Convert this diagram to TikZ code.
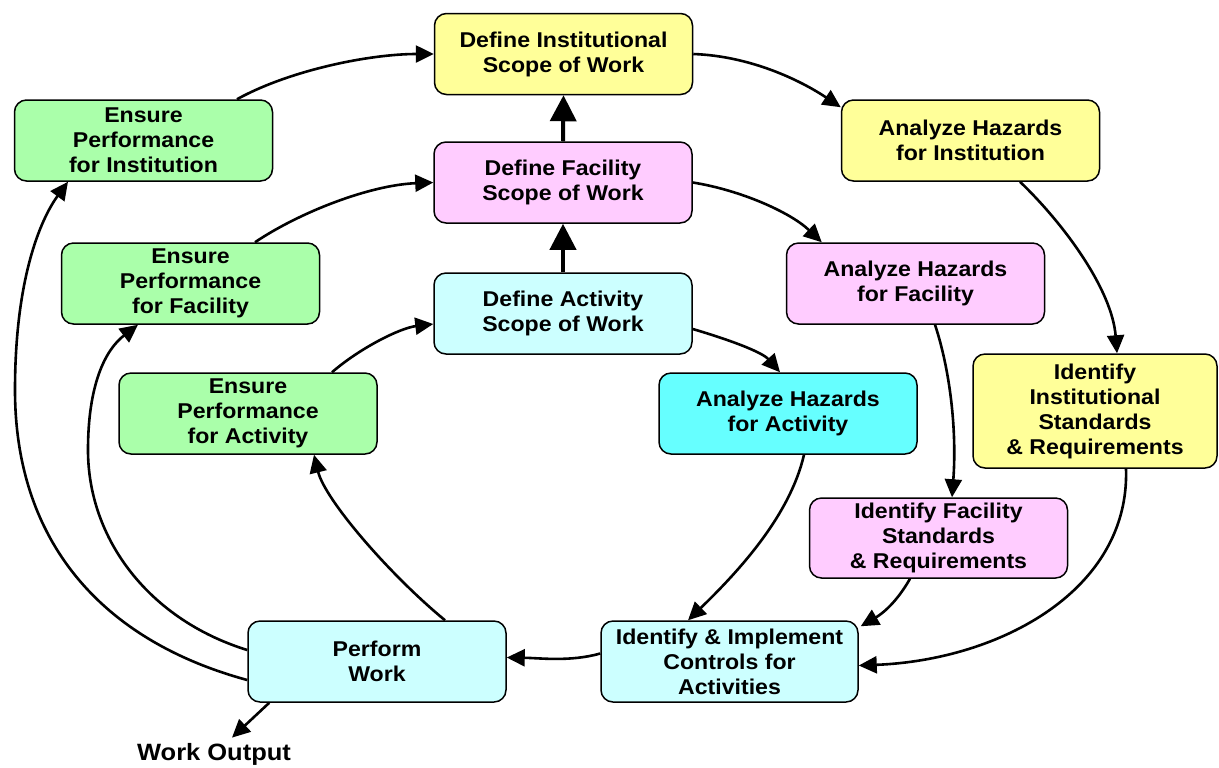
\documentclass[tikz,border=0pt]{standalone}
\usepackage{fontspec}
\setmainfont{Liberation Sans}[FakeStretch=1.08]
\usetikzlibrary{arrows.meta,calc}
\definecolor{instfill}{HTML}{FFFF99}
\definecolor{facfill}{HTML}{FFCCFF}
\definecolor{ensfill}{HTML}{AAFFAA}
\definecolor{actfill}{HTML}{CCFFFF}
\definecolor{hazfill}{HTML}{66FFFF}
\begin{document}
\begin{tikzpicture}[x=0.5pt,y=-0.5pt,
  box/.style={draw, line width=0.75pt, rounded corners=6pt, align=center,
    inner sep=0pt, minimum width=129pt, minimum height=40.5pt,
    font=\bfseries\fontsize{10.7}{12.5}\selectfont},
  flow/.style={line width=1.3pt, -{Triangle[length=9pt,width=8.5pt]}},
  upflow/.style={line width=2pt, -{Triangle[length=13pt,width=13pt]}}]
\useasboundingbox (0,0) rectangle (1219,767);

% institution level
\node[box, fill=instfill] (dinst) at (563.5,54) {Define Institutional\\Scope of Work};
\node[box, fill=instfill] (ahinst) at (970.5,140.5) {Analyze Hazards\\for Institution};
\node[box, fill=instfill, minimum width=122pt, minimum height=57pt] (idinst) at (1095,411) {Identify\\Institutional\\Standards\\\& Requirements};
\node[box, fill=ensfill] (einst) at (143.5,140.5) {Ensure\\Performance\\for Institution};

% facility level
\node[box, fill=facfill] (dfac) at (563,182.5) {Define Facility\\Scope of Work};
\node[box, fill=facfill] (ahfac) at (915.5,283.5) {Analyze Hazards\\for Facility};
\node[box, fill=facfill, minimum height=40pt] (idfac) at (938.5,538) {Identify Facility\\Standards\\\& Requirements};
\node[box, fill=ensfill] (efac) at (190.5,283.5) {Ensure\\Performance\\for Facility};

% activity level
\node[box, fill=actfill] (dact) at (563,313.5) {Define Activity\\Scope of Work};
\node[box, fill=hazfill] (ahact) at (788,413.5) {Analyze Hazards\\for Activity};
\node[box, fill=ensfill] (eact) at (248,413.5) {Ensure\\Performance\\for Activity};

% work
\node[box, fill=actfill] (pw) at (377,661.5) {Perform\\Work};
\node[box, fill=actfill, minimum width=128.5pt] (iic) at (729.5,661.5) {Identify \& Implement\\Controls for\\Activities};
\node[inner sep=0pt, font=\bfseries\fontsize{11.8}{14}\selectfont] (wo) at (214,754) {Work Output};

% scope escalation
\draw[upflow] (dact.north) -- (dfac.south);
\draw[upflow] (dfac.north) -- (dinst.south);

% institution cycle
\draw[flow] ($(einst.north)+(93.5,0)$) .. controls (290,70) and (370,54) .. (dinst.west);
\draw[flow] (dinst.east) .. controls (750,56) and (800,80) .. ($(ahinst.north west)+(0,8)$);
\draw[flow] ($(ahinst.south)+(49.5,0)$) .. controls (1065,225) and (1112,290) .. ($(idinst.north)+(22,0)$);
\draw[flow] ($(idinst.south)+(31,0)$) .. controls (1130,590) and (1000,660) .. ($(iic.east)+(0,4)$);

% facility cycle
\draw[flow] ($(efac.north)+(64.5,0)$) .. controls (300,212) and (370,185) .. (dfac.west);
\draw[flow] (dfac.east) .. controls (740,190) and (790,212) .. ($(ahfac.north west)+(36,0)$);
\draw[flow] ($(ahfac.south)+(19.5,0)$) .. controls (950,370) and (957,430) .. ($(idfac.north)+(13.5,0)$);
\draw[flow] ($(idfac.south)+(-28.5,0)$) .. controls (895,605) and (880,615) .. ($(iic.north east)+(2,6)$);

% activity cycle
\draw[flow] ($(eact.north)+(84,0)$) .. controls (360,348) and (400,328) .. ($(dact.west)+(0,10.5)$);
\draw[flow] ($(dact.east)+(0,15.5)$) .. controls (730,340) and (762,352) .. ($(ahact.north)+(-8,0)$);
\draw[flow] ($(ahact.south)+(16,0)$) .. controls (790,515) and (740,570) .. ($(iic.north)+(-41.5,0)$);

% controls to work and feedback
\draw[flow] ($(iic.west)+(0,-8)$) .. controls (570,662) and (540,658) .. ($(pw.east)+(0,-4)$);
\draw[flow] ($(pw.north)+(68,0)$) .. controls (390,575) and (325,500) .. ($(eact.south)+(66,0)$);
\draw[flow] ($(pw.west)+(0,-11.5)$) .. controls (150,620) and (88,540) .. (88,450)
  .. controls (88,385) and (105,350) .. ($(efac.south)+(-52.5,0)$);
\draw[flow] ($(pw.west)+(0,18.5)$) .. controls (100,640) and (15,540) .. (15,390)
  .. controls (15,280) and (40,220) .. ($(einst.south)+(-75.5,0)$);
\draw[flow] ($(pw.south west)+(22,0)$) -- ($(wo.north)+(18,-5)$);
\end{tikzpicture}
\end{document}
